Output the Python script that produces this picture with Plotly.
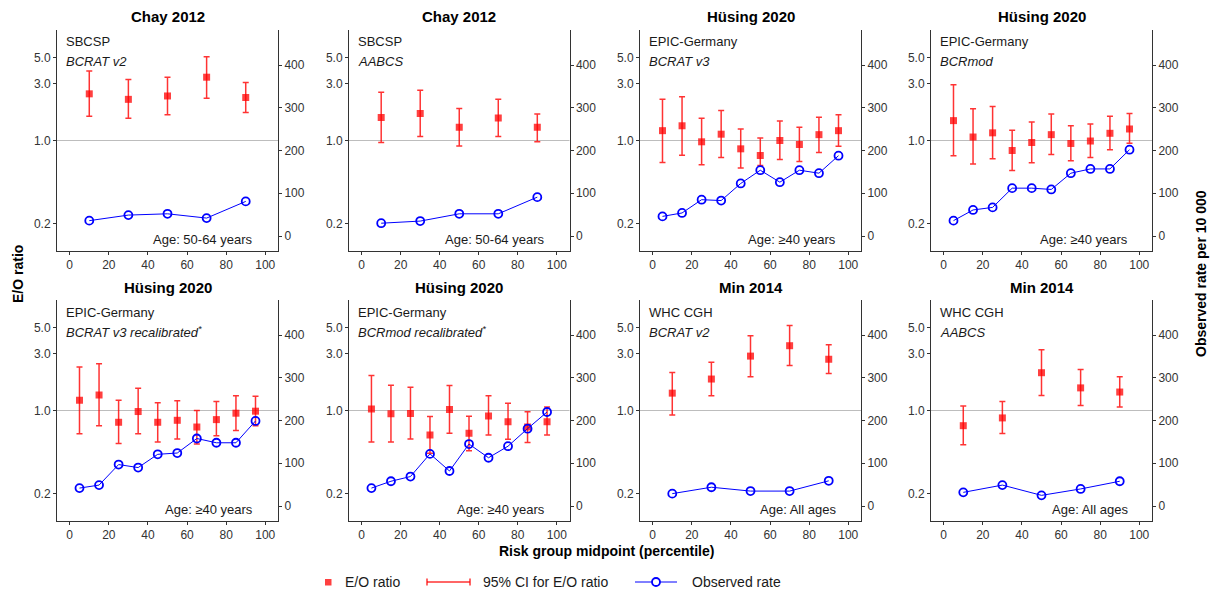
import plotly.graph_objects as go

# ---------------- data ----------------
x5 = [10, 30, 50, 70, 90]
x10 = [5, 15, 25, 35, 45, 55, 65, 75, 85, 95]

titles = ["Chay 2012", "Chay 2012", "Hüsing 2020", "Hüsing 2020",
          "Hüsing 2020", "Hüsing 2020", "Min 2014", "Min 2014"]
cohorts = ["SBCSP", "SBCSP", "EPIC-Germany", "EPIC-Germany",
           "EPIC-Germany", "EPIC-Germany", "WHC CGH", "WHC CGH"]
models = ["BCRAT v2", "AABCS", "BCRAT v3", "BCRmod",
          "BCRAT v3 recalibrated<sup>*</sup>", "BCRmod recalibrated<sup>*</sup>",
          "BCRAT v2", "AABCS"]
ages = ["Age: 50-64 years", "Age: 50-64 years", "Age: ≥40 years", "Age: ≥40 years",
        "Age: ≥40 years", "Age: ≥40 years", "Age: All ages", "Age: All ages"]

# Chay 2012 – SBCSP – BCRAT v2
eo_chay_bcrat = [2.47, 2.22, 2.37, 3.41, 2.30]
lo_chay_bcrat = [1.60, 1.54, 1.65, 2.27, 1.72]
hi_chay_bcrat = [3.85, 3.26, 3.41, 5.08, 3.07]
rate_chay_bcrat = [36, 49, 52, 42, 81]

# Chay 2012 – SBCSP – AABCS
eo_chay_aabcs = [1.56, 1.69, 1.29, 1.55, 1.29]
lo_chay_aabcs = [0.96, 1.08, 0.90, 1.08, 0.975]
hi_chay_aabcs = [2.55, 2.65, 1.86, 2.22, 1.67]
rate_chay_aabcs = [30, 35, 52, 52, 91]

# Hüsing 2020 – BCRAT v3
eo_hus_bcrat = [1.21, 1.33, 0.975, 1.13, 0.851, 0.748, 1.00, 0.925, 1.12, 1.21]
lo_hus_bcrat = [0.653, 0.753, 0.625, 0.72, 0.586, 0.617, 0.692, 0.667, 0.793, 0.896]
hi_hus_bcrat = [2.22, 2.33, 1.54, 1.79, 1.25, 1.05, 1.46, 1.29, 1.57, 1.65]
rate_hus_bcrat = [46, 54, 85, 83, 123, 154, 126, 154, 147, 188]

# Hüsing 2020 – BCRmod
eo_hus_bcrmod = [1.47, 1.07, 1.16, 0.824, 0.962, 1.12, 0.944, 0.99, 1.15, 1.25]
lo_hus_bcrmod = [0.743, 0.633, 0.701, 0.56, 0.649, 0.763, 0.675, 0.72, 0.835, 0.95]
hi_hus_bcrmod = [2.95, 1.85, 1.93, 1.22, 1.43, 1.67, 1.33, 1.38, 1.60, 1.69]
rate_hus_bcrmod = [36, 61, 67, 112, 112, 109, 147, 157, 157, 202]

# Hüsing 2020 – BCRAT v3 recalibrated
eo_hus_bcrat_rc = [1.22, 1.35, 0.796, 0.98, 0.796, 0.827, 0.726, 0.838, 0.949, 0.987]
lo_hus_bcrat_rc = [0.637, 0.745, 0.527, 0.637, 0.544, 0.577, 0.523, 0.612, 0.68, 0.745]
hi_hus_bcrat_rc = [2.32, 2.48, 1.22, 1.54, 1.16, 1.21, 1.00, 1.19, 1.33, 1.32]
rate_hus_bcrat_rc = [42, 49, 97, 90, 121, 124, 158, 148, 148, 199]

# Hüsing 2020 – BCRmod recalibrated
eo_hus_bcrmod_rc = [1.03, 0.937, 0.943, 0.621, 1.02, 0.645, 0.901, 0.806, 0.726, 0.806]
lo_hus_bcrmod_rc = [0.544, 0.544, 0.577, 0.436, 0.645, 0.459, 0.621, 0.574, 0.537, 0.621]
hi_hus_bcrmod_rc = [1.97, 1.63, 1.57, 0.889, 1.62, 0.895, 1.33, 1.15, 0.974, 1.07]
rate_hus_bcrmod_rc = [42, 58, 69, 122, 82, 145, 113, 140, 181, 220]

# Min 2014 – WHC CGH – BCRAT v2
eo_min_bcrat = [1.40, 1.84, 2.87, 3.51, 2.70]
lo_min_bcrat = [0.918, 1.33, 1.92, 2.39, 2.05]
hi_min_bcrat = [2.09, 2.55, 4.25, 5.20, 3.58]
rate_min_bcrat = [29, 44, 35, 35, 59]

# Min 2014 – WHC CGH – AABCS
eo_min_aabcs = [0.745, 0.866, 2.08, 1.55, 1.43]
lo_min_aabcs = [0.516, 0.641, 1.34, 1.10, 1.07]
hi_min_aabcs = [1.09, 1.19, 3.25, 2.21, 1.92]
rate_min_aabcs = [32, 49, 25, 40, 58]

xs = [x5, x5, x10, x10, x10, x10, x5, x5]
eos = [eo_chay_bcrat, eo_chay_aabcs, eo_hus_bcrat, eo_hus_bcrmod,
       eo_hus_bcrat_rc, eo_hus_bcrmod_rc, eo_min_bcrat, eo_min_aabcs]
los = [lo_chay_bcrat, lo_chay_aabcs, lo_hus_bcrat, lo_hus_bcrmod,
       lo_hus_bcrat_rc, lo_hus_bcrmod_rc, lo_min_bcrat, lo_min_aabcs]
his = [hi_chay_bcrat, hi_chay_aabcs, hi_hus_bcrat, hi_hus_bcrmod,
       hi_hus_bcrat_rc, hi_hus_bcrmod_rc, hi_min_bcrat, hi_min_aabcs]
rates = [rate_chay_bcrat, rate_chay_aabcs, rate_hus_bcrat, rate_hus_bcrmod,
         rate_hus_bcrat_rc, rate_hus_bcrmod_rc, rate_min_bcrat, rate_min_aabcs]

x_ticks = [0, 20, 40, 60, 80, 100]
eo_ticks = [0.2, 1.0, 3.0, 5.0]
eo_ticktext = ["0.2", "1.0", "3.0", "5.0"]
rate_ticks = [0, 100, 200, 300, 400]

# ---------------- layout geometry ----------------
W, H = 1215, 598
FONT = "Liberation Sans, Arial, sans-serif"
cols_px = [(57, 278), (349, 569.5), (640, 861), (931, 1152)]
rows_px = [(30, 251), (300, 521)]

RED = "rgba(255,0,0,0.75)"
RED_BAR = "rgba(255,0,0,0.8)"
BLUE = "#0000FF"
AX = "#333333"

fig = go.Figure()
layout = dict(width=W, height=H, margin=dict(l=0, r=0, t=0, b=0), autosize=False,
              paper_bgcolor="white", plot_bgcolor="white", showlegend=False,
              font=dict(family=FONT, size=12, color=AX))
annotations = []
shapes = []

common_axis = dict(showline=True, linecolor=AX, linewidth=1, ticks="outside", ticklen=3,
                   tickcolor=AX, tickwidth=1, showgrid=False, zeroline=False,
                   tickfont=dict(family=FONT, size=12, color="#333333"))

for i in range(8):
    r, c = divmod(i, 4)
    n = i + 1
    xa = "x" if n == 1 else f"x{n}"
    ya = "y" if n == 1 else f"y{n}"
    ya2 = f"y{n + 8}"
    x0p, x1p = cols_px[c]
    y0p, y1p = rows_px[r]
    xdom = [x0p / W, x1p / W]
    ydom = [1 - y1p / H, 1 - y0p / H]

    layout[f"xaxis{n}"] = dict(domain=xdom, anchor=ya, range=[-6.5, 106.5],
                               tickvals=x_ticks, **common_axis)
    layout[f"yaxis{n}"] = dict(domain=ydom, anchor=xa, type="log", range=[-0.93, 0.93],
                               tickvals=eo_ticks, ticktext=eo_ticktext, **common_axis)
    layout[f"yaxis{n + 8}"] = dict(domain=ydom, anchor=xa, overlaying=ya, side="right",
                                   range=[-35, 482], tickvals=rate_ticks, **common_axis)

    # reference line at E/O = 1
    shapes.append(dict(type="line", xref=f"{xa} domain", yref=ya, x0=0, x1=1, y0=1, y1=1,
                       line=dict(color="#BDBDBD", width=1), layer="below"))

    eo, lo, hi = eos[i], los[i], his[i]
    fig.add_trace(go.Scatter(
        x=xs[i], y=eo, xaxis=xa, yaxis=ya, mode="markers",
        marker=dict(symbol="square", size=7, color=RED),
        error_y=dict(type="data", symmetric=False,
                     array=[h - e for h, e in zip(hi, eo)],
                     arrayminus=[e - l for e, l in zip(eo, lo)],
                     color=RED_BAR, thickness=1.5, width=3),
        name="E/O ratio"))
    fig.add_trace(go.Scatter(
        x=xs[i], y=rates[i], xaxis=xa, yaxis=ya2, mode="lines+markers",
        line=dict(color=BLUE, width=1),
        marker=dict(symbol="circle-open", size=8, color=BLUE, line=dict(width=1.8, color=BLUE)),
        name="Observed rate"))

    # panel title
    annotations.append(dict(text=f"<b>{titles[i]}</b>", xref="paper", yref="paper",
                            x=(x0p + x1p) / 2 / W, y=1 - (y0p - 13) / H,
                            xanchor="center", yanchor="middle", showarrow=False,
                            font=dict(family=FONT, size=15, color="black")))
    ph = y1p - y0p
    pw = x1p - x0p
    annotations.append(dict(text=cohorts[i], xref=f"{xa} domain", yref=f"{ya} domain",
                            x=7 / pw, y=1 - 12 / ph, xanchor="left", yanchor="middle",
                            showarrow=False, font=dict(family=FONT, size=13, color="#1a1a1a")))
    annotations.append(dict(text=f"<i>{models[i]}</i>", xref=f"{xa} domain", yref=f"{ya} domain",
                            x=7 / pw, y=1 - 32 / ph, xanchor="left", yanchor="middle",
                            showarrow=False, font=dict(family=FONT, size=13, color="#1a1a1a")))
    annotations.append(dict(text=ages[i], xref=f"{xa} domain", yref=f"{ya} domain",
                            x=1 - 22.5 / pw, y=12 / ph, xanchor="right", yanchor="middle",
                            showarrow=False, font=dict(family=FONT, size=13, color="#1a1a1a")))

# axis titles
annotations.append(dict(text="<b>E/O ratio</b>", xref="paper", yref="paper", x=18 / W,
                        y=1 - 274 / H, textangle=-90, showarrow=False, xanchor="center",
                        yanchor="middle", font=dict(family=FONT, size=14, color="black")))
annotations.append(dict(text="<b>Observed rate per 10 000</b>", xref="paper", yref="paper",
                        x=1201 / W, y=1 - 274 / H, textangle=-90, showarrow=False,
                        xanchor="center", yanchor="middle",
                        font=dict(family=FONT, size=14, color="black")))
annotations.append(dict(text="<b>Risk group midpoint (percentile)</b>", xref="paper",
                        yref="paper", x=606 / W, y=1 - 551 / H, showarrow=False,
                        xanchor="center", yanchor="middle",
                        font=dict(family=FONT, size=14, color="black")))

# legend (drawn manually)
ly = 1 - 582 / H
def px(xp):
    return xp / W
def py(yp):
    return 1 - yp / H

shapes.append(dict(type="rect", xref="paper", yref="paper", x0=px(325), x1=px(331.5),
                   y0=py(585.5), y1=py(579), fillcolor=RED, line=dict(width=0)))
annotations.append(dict(text="E/O ratio", xref="paper", yref="paper", x=px(343), y=ly,
                        xanchor="left", yanchor="middle", showarrow=False,
                        font=dict(family=FONT, size=14, color="#1a1a1a")))
shapes.append(dict(type="line", xref="paper", yref="paper", x0=px(427), x1=px(470),
                   y0=ly, y1=ly, line=dict(color=RED_BAR, width=1.5)))
for xc in (427, 470):
    shapes.append(dict(type="line", xref="paper", yref="paper", x0=px(xc), x1=px(xc),
                       y0=py(578.5), y1=py(585.5), line=dict(color=RED_BAR, width=1.5)))
annotations.append(dict(text="95% CI for E/O ratio", xref="paper", yref="paper", x=px(481),
                        y=ly, xanchor="left", yanchor="middle", showarrow=False,
                        font=dict(family=FONT, size=14, color="#1a1a1a")))
shapes.append(dict(type="line", xref="paper", yref="paper", x0=px(635), x1=px(677),
                   y0=ly, y1=ly, line=dict(color=BLUE, width=1)))
shapes.append(dict(type="circle", xref="paper", yref="paper", x0=px(652), x1=px(660),
                   y0=py(586), y1=py(578), fillcolor="white", line=dict(color=BLUE, width=1.8)))
annotations.append(dict(text="Observed rate", xref="paper", yref="paper", x=px(690), y=ly,
                        xanchor="left", yanchor="middle", showarrow=False,
                        font=dict(family=FONT, size=14, color="#1a1a1a")))

layout["annotations"] = annotations
layout["shapes"] = shapes
fig.update_layout(**layout)
fig.write_html("out.html")
